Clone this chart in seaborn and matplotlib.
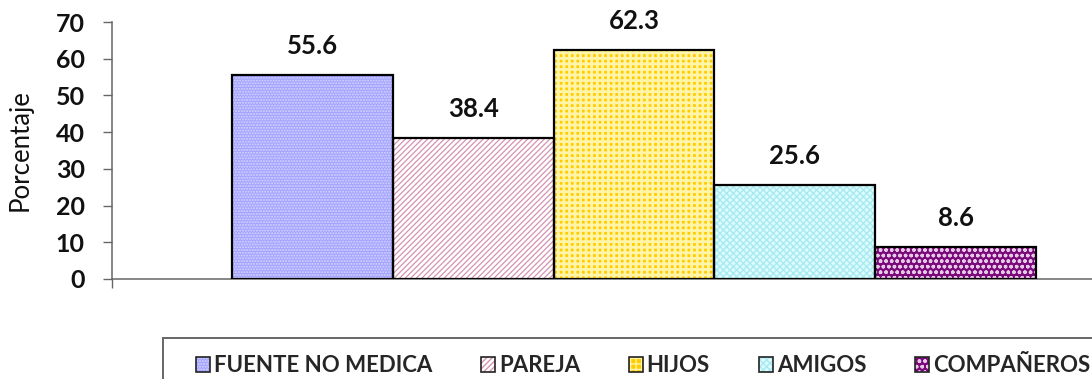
import matplotlib
matplotlib.use("Agg")
import matplotlib.pyplot as plt
from matplotlib.patches import Patch, Rectangle
from matplotlib.legend_handler import HandlerTuple
import seaborn as sns
import pandas as pd

# Fuente de información (porcentaje de respuestas)
categorias = ["FUENTE NO MEDICA", "PAREJA", "HIJOS", "AMIGOS", "COMPAÑEROS"]
porcentajes = [55.6, 38.4, 62.3, 25.6, 8.6]
y_ticks = [0, 10, 20, 30, 40, 50, 60, 70]

# Relleno, trama y color de trama de cada barra
rellenos = ["#a3a3ff", "#ffffff", "#ffcc00", "#dcfdfd", "#7a0a7a"]
tramas = ["......", "//////", "+++", "xxxxx", "ooo"]
colores_trama = ["#d6d6ff", "#d693b0", "#fff4a8", "#a9e9f2", "#e8c8e8"]
grosor_trama = [1.0, 0.9, 2.0, 1.0, 1.0]

sns.set_theme(style="white")
plt.rcParams["font.family"] = ["Lato", "DejaVu Sans"]
plt.rcParams["hatch.linewidth"] = 1.0

df = pd.DataFrame({"fuente": categorias, "pct": porcentajes})

fig = plt.figure(figsize=(10.92, 3.79), dpi=100)
ax = fig.add_axes([112 / 1092, 1 - 279 / 379, 1 - 112 / 1092, 257 / 379])

sns.barplot(data=df, x="fuente", y="pct", hue="fuente", order=categorias,
            hue_order=categorias, palette=dict(zip(categorias, rellenos)),
            width=1.0, legend=False, ax=ax, saturation=1)

for patch, tr, ct, gt in zip(list(ax.patches), tramas, colores_trama, grosor_trama):
    patch.set_hatch(tr)
    patch.set_edgecolor(ct)
    patch.set_linewidth(0)
    if hasattr(patch, "set_hatch_linewidth"):
        patch.set_hatch_linewidth(gt)
    ax.add_patch(Rectangle(patch.get_xy(), patch.get_width(), patch.get_height(),
                           fill=False, edgecolor="black", linewidth=1.6, zorder=3))

for patch, val in zip(ax.patches, porcentajes):
    ax.annotate(f"{val:.1f}", (patch.get_x() + patch.get_width() / 2, val),
                xytext=(0, 21), textcoords="offset points", ha="center",
                va="center", fontsize=18.5, fontweight="bold", color="#111111")

ax.set_ylim(0, 70)
ax.set_xlim(-1.246, 4.848)
ax.set_yticks(y_ticks)
ax.set_yticklabels([str(t) for t in y_ticks], fontsize=18, fontweight="bold")
ax.set_xticks([ax.get_xlim()[0]])
ax.set_xticklabels([""])
ax.tick_params(axis="y", direction="out", length=6.5, width=1, color="#666666",
               pad=13, left=True, labelcolor="#111111")
ax.tick_params(axis="x", direction="out", length=6.5, width=1, color="#666666",
               bottom=True)
ax.set_xlabel("")
ax.set_ylabel("Porcentaje", fontsize=18.5, color="#111111")
ax.yaxis.set_label_coords(-0.081, 0.5)

for side in ("top", "right"):
    ax.spines[side].set_visible(False)
for side in ("left", "bottom"):
    ax.spines[side].set_color("#666666")
    ax.spines[side].set_linewidth(1.1)

# Leyenda con marco propio
fig.patches.append(Rectangle((163 / 1092, -0.1), 1.0, 1 - 338 / 379 + 0.1,
                             transform=fig.transFigure, fill=False,
                             edgecolor="#666666", linewidth=1.4))
handles = [(Patch(facecolor=f, hatch=t, edgecolor=c, linewidth=0),
            Patch(fill=False, edgecolor="#222222", linewidth=1.2))
           for f, t, c in zip(rellenos, tramas, colores_trama)]
fig.legend(handles, categorias, handler_map={tuple: HandlerTuple(ndivide=1)},
           loc="center left", bbox_to_anchor=(196 / 1092, 1 - 366 / 379),
           ncol=5, frameon=False, borderpad=0, borderaxespad=0,
           handlelength=0.65, handleheight=0.65, handletextpad=0.15,
           columnspacing=2.2, prop={"weight": "bold", "size": 16})

fig.savefig("out.png", dpi=100)
